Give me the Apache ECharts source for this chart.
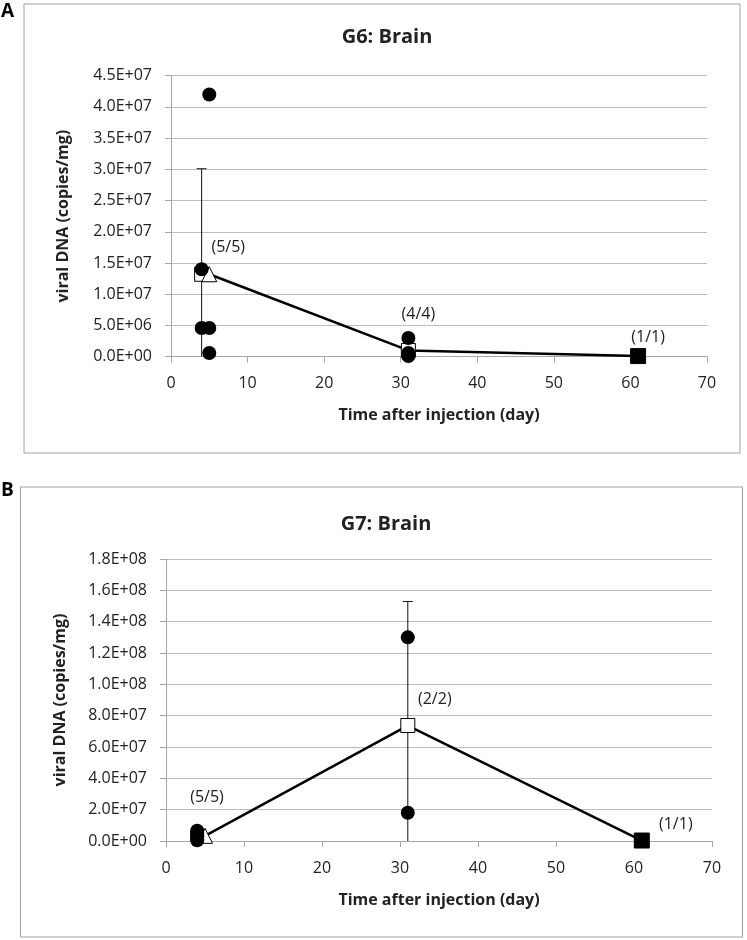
<!DOCTYPE html>
<html>
<head>
<meta charset="utf-8">
<script src="https://cdn.jsdelivr.net/npm/echarts@6/dist/echarts.min.js"></script>
<style>html,body{margin:0;padding:0;background:#fff;}#c{width:747px;height:940px;}</style>
</head>
<body>
<div id="c"></div>
<script>
// ---- Panel A: G6 Brain ----
const g6Title = 'G6: Brain';
const g6PointDays = [4, 4, 5, 5, 5, 31, 31, 31, 31, 61];
const g6PointValues = [1.4e7, 4.6e6, 4.2e7, 4.6e6, 6e5, 3.0e6, 6e5, 3e5, 1e5, 1e5];
const g6MeanDays = [5, 31, 61];
const g6MeanValues = [1.32e7, 1.0e6, 1e5];
const g6Counts = ['(5/5)', '(4/4)', '(1/1)'];
const g6ErrDay = [4];
const g6ErrMean = [1.32e7];
const g6ErrSd = [1.69e7];
const g6YTicks = [0, 4.5e7, 5e6];   // min, max, step

// ---- Panel B: G7 Brain ----
const g7Title = 'G7: Brain';
const g7PointDays = [4, 4, 4, 4, 4, 31, 31, 61];
const g7PointValues = [6.5e6, 5e6, 3e6, 1.5e6, 5e5, 1.3e8, 1.8e7, 3e5];
const g7MeanDays = [5, 31, 61];
const g7MeanValues = [3.3e6, 7.37e7, 3e5];
const g7Counts = ['(5/5)', '(2/2)', '(1/1)'];
const g7ErrDay = [31];
const g7ErrMean = [7.37e7];
const g7ErrSd = [7.92e7];
const g7YTicks = [0, 1.8e8, 2e7];

const xTicks = [0, 70, 10];
const xName = 'Time after injection (day)';
const yName = 'viral DNA (copies/mg)';

const FONT = '"Open Sans", sans-serif';
const TXT = '#222';

function sci(v) {
  const s = Number(v).toExponential(1);
  const m = s.match(/^(-?[\d.]+)e([+-])(\d+)$/);
  const exp = m[3].length < 2 ? '0' + m[3] : m[3];
  return m[1] + 'E' + m[2] + exp;
}

function xAxisDef(gi) {
  return {
    gridIndex: gi, type: 'value', min: xTicks[0], max: xTicks[1], interval: xTicks[2],
    name: xName, nameLocation: 'middle', nameGap: 51,
    nameTextStyle: {fontFamily: FONT, fontSize: 16, fontWeight: 'bold', color: TXT},
    axisLine: {show: true, lineStyle: {color: '#a6a6a6', width: 1}},
    axisTick: {show: true, length: 6, lineStyle: {color: '#a6a6a6'}},
    axisLabel: {fontFamily: FONT, fontSize: 16, color: TXT, margin: 19},
    splitLine: {show: false}
  };
}
function yAxisDef(gi, ticks, gap) {
  return {
    gridIndex: gi, type: 'value', min: ticks[0], max: ticks[1], interval: ticks[2],
    name: yName, nameLocation: 'middle', nameGap: gap, nameRotate: 90,
    nameTextStyle: {fontFamily: FONT, fontSize: 16, fontWeight: 'bold', color: TXT},
    axisLine: {show: true, lineStyle: {color: '#a6a6a6', width: 1}},
    axisTick: {show: true, length: 6, lineStyle: {color: '#a6a6a6'}},
    axisLabel: {fontFamily: FONT, fontSize: 16, color: TXT, margin: 19, formatter: sci},
    splitLine: {show: true, lineStyle: {color: '#bdbdbd', width: 1}}
  };
}

function errSeries(gi, days, means, sds) {
  const data = days.map((d, i) => [d, Math.max(0, means[i] - sds[i]), means[i] + sds[i]]);
  return {
    type: 'custom', xAxisIndex: gi, yAxisIndex: gi, z: 2, clip: true,
    data: data,
    encode: {x: 0, y: [1, 2]},
    renderItem: function (params, api) {
      const x = api.value(0);
      const lo = api.coord([x, api.value(1)]);
      const hi = api.coord([x, api.value(2)]);
      return {
        type: 'group',
        children: [
          {type: 'line', shape: {x1: lo[0], y1: lo[1], x2: hi[0], y2: hi[1]}, style: {stroke: '#111', lineWidth: 1}},
          {type: 'line', shape: {x1: hi[0] - 5, y1: hi[1], x2: hi[0] + 5, y2: hi[1]}, style: {stroke: '#111', lineWidth: 1}}
        ]
      };
    }
  };
}

function meanLine(gi, days, vals, counts, offsets) {
  const syms = ['triangle', 'rect', 'rect'];
  const fills = ['#fff', '#fff', '#000'];
  const sizes = [15, 14, 15];
  return {
    type: 'line', xAxisIndex: gi, yAxisIndex: gi, z: 3,
    lineStyle: {color: '#000', width: 2.5},
    data: days.map((d, i) => ({
      value: [d, vals[i]],
      symbol: syms[i], symbolSize: sizes[i],
      itemStyle: {color: fills[i], borderColor: '#000', borderWidth: 1, opacity: 1},
      label: {show: true, formatter: counts[i], position: 'inside', offset: offsets[i],
              fontFamily: FONT, fontSize: 16, color: TXT}
    })),
    animation: false
  };
}

function dots(gi, days, vals) {
  return {
    type: 'scatter', xAxisIndex: gi, yAxisIndex: gi, z: 4,
    symbol: 'circle', symbolSize: 14,
    itemStyle: {color: '#000', opacity: 1},
    data: days.map((d, i) => [d, vals[i]])
  };
}

const chart = echarts.init(document.getElementById('c'), null, {renderer: 'canvas'});
chart.setOption({
  animation: false,
  backgroundColor: '#fff',
  title: [
    {text: g6Title, left: 382, top: 22, textAlign: 'center',
     textStyle: {fontFamily: FONT, fontSize: 20, fontWeight: 'bold', color: TXT}},
    {text: g7Title, left: 381, top: 509, textAlign: 'center',
     textStyle: {fontFamily: FONT, fontSize: 20, fontWeight: 'bold', color: TXT}}
  ],
  graphic: [
    {type: 'rect', shape: {x: 24, y: 4, width: 716, height: 449}, style: {fill: 'none', stroke: '#a0a0a0', lineWidth: 1}},
    {type: 'rect', shape: {x: 20.5, y: 487, width: 722, height: 450}, style: {fill: 'none', stroke: '#a0a0a0', lineWidth: 1}},
    {type: 'text', left: 1, top: 2, style: {text: 'A', font: 'bold 19px ' + FONT, fill: '#000'}},
    {type: 'text', left: 1, top: 481, style: {text: 'B', font: 'bold 19px ' + FONT, fill: '#000'}}
  ],
  grid: [
    {left: 171, right: 40, top: 75.7, height: 281, containLabel: false},
    {left: 166, right: 35, top: 559, height: 282, containLabel: false}
  ],
  xAxis: [xAxisDef(0), xAxisDef(1)],
  yAxis: [yAxisDef(0, g6YTicks, 100), yAxisDef(1, g7YTicks, 98)],
  series: [
    errSeries(0, g6ErrDay, g6ErrMean, g6ErrSd),
    {type: 'scatter', xAxisIndex: 0, yAxisIndex: 0, z: 2, symbol: 'rect', symbolSize: 14,
     itemStyle: {color: '#fff', borderColor: '#000', borderWidth: 1, opacity: 1},
     data: g6ErrDay.map((d, i) => [d, g6ErrMean[i]])},
    meanLine(0, g6MeanDays, g6MeanValues, g6Counts, [[19, -27], [10, -36], [10, -19]]),
    dots(0, g6PointDays, g6PointValues),
    errSeries(1, g7ErrDay, g7ErrMean, g7ErrSd),
    meanLine(1, g7MeanDays, g7MeanValues, g7Counts, [[2, -38], [27, -26], [34, -16]]),
    dots(1, g7PointDays, g7PointValues)
  ]
});
</script>
</body>
</html>
